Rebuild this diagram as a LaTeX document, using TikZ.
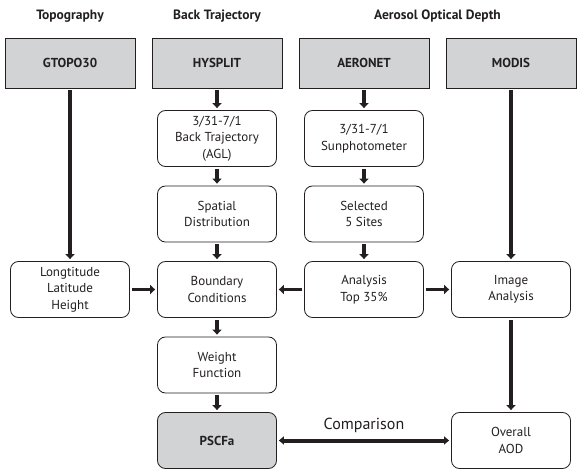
\documentclass[tikz,border=0pt]{standalone}
\usepackage{fontspec}
\setmainfont{PT Sans}
\usepackage{tikz}
\usetikzlibrary{arrows.meta,shapes,positioning}
\usepackage{xcolor}
\definecolor{pscgray}{RGB}{209,211,212}
\definecolor{pscink}{RGB}{35,31,32}
\tikzstyle{source} = [rectangle, minimum width=130pt, minimum height=50pt, text centered, draw=pscink, fill=pscgray, line width=0.8pt, font=\bfseries\fontsize{13}{14}\selectfont, text=pscink]
\tikzstyle{roundbox} = [rectangle, rounded corners=8pt, minimum width=119pt, minimum height=56pt, text centered, align=center, draw=pscink, line width=0.8pt, font=\fontsize{13}{16.5}\selectfont, text=pscink]
\tikzstyle{header} = [font=\bfseries\fontsize{13.5}{15}\selectfont, text=pscink]
\tikzstyle{arrow} = [line width=3.3pt, -{Triangle[width=9pt,length=5pt]}, color=pscink, shorten <=2pt, shorten >=2pt]

\begin{document}
\begin{tikzpicture}[node distance=75.5pt]
\useasboundingbox (0,0) rectangle (582pt,-476pt);
% Data sources
\node (gtopo) [source] at (70pt,-63pt) {GTOPO30};
\node (hysplit) [source, right of=gtopo, xshift=71.5pt] {HYSPLIT};
\node (aeronet) [source, right of=hysplit, xshift=71.5pt] {AERONET};
\node (modis) [source, right of=aeronet, xshift=71.5pt] {MODIS};

% Headers above
\node[header, above of=gtopo, yshift=-28.5pt] {Topography};
\node[header, above of=hysplit, yshift=-28.5pt] {Back Trajectory};
\node[header, above of=aeronet, xshift=73.5pt, yshift=-28.5pt] {Aerosol Optical Depth};

% Back trajectory column
\node (traj) [roundbox, below of=hysplit] {3/31-7/1\\Back Trajectory\\(AGL)};
\node (spatial) [roundbox, below of=traj] {Spatial\\Distribution};
\node (boundary) [roundbox, below of=spatial] {Boundary\\Conditions};
\node (weight) [roundbox, below of=boundary] {Weight\\Function};
\node (pscfa) [roundbox, fill=pscgray, font=\bfseries\fontsize{13}{16}\selectfont, below of=weight] {PSCFa};

% AOD columns
\node (sun) [roundbox, below of=aeronet] {3/31-7/1\\Sunphotometer};
\node (sites) [roundbox, below of=sun] {Selected\\5 Sites};
\node (analysis) [roundbox, below of=sites] {Analysis\\Top 35\%};
\node (image) [roundbox, right of=analysis, xshift=71.5pt] {Image\\Analysis};
\node (overall) [roundbox, below of=image, yshift=-75.5pt] {Overall\\AOD};

% Topography column
\node (coords) [roundbox, left of=boundary, xshift=-71.5pt] {Longtitude\\Latitude\\Height};

% Arrows
\draw[arrow] (gtopo) -- (coords);
\draw[arrow] (hysplit) -- (traj);
\draw[arrow] (traj) -- (spatial);
\draw[arrow] (spatial) -- (boundary);
\draw[arrow] (boundary) -- (weight);
\draw[arrow] (weight) -- (pscfa);
\draw[arrow] (aeronet) -- (sun);
\draw[arrow] (sun) -- (sites);
\draw[arrow] (sites) -- (analysis);
\draw[arrow] (coords) -- (boundary);
\draw[arrow] (analysis) -- (boundary);
\draw[arrow] (analysis) -- (image);
\draw[arrow] (modis) -- (image);
\draw[arrow] (image) -- (overall);
\draw[arrow, line width=4pt, {Triangle[width=8pt,length=5pt]}-{Triangle[width=8pt,length=5pt]}] (pscfa) -- node[above, yshift=2pt, font=\fontsize{16}{18}\selectfont] {Comparison} (overall);
\end{tikzpicture}
\end{document}
